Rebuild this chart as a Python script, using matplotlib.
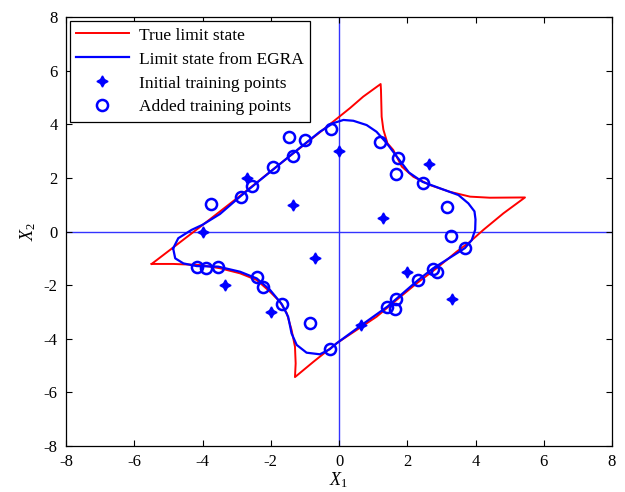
import matplotlib
matplotlib.use("Agg")
import matplotlib.pyplot as plt

# True limit state (traced, closed)
true_x = [-5.49, -4.76, -4.02, -2.90, -1.73, -0.56, 0.32, 0.71, 1.22, 1.23, 1.25, 1.30,
          1.42, 1.59, 1.84, 2.18, 2.67, 3.25, 3.84, 4.42, 5.45, 4.82, 4.23, 3.84, 3.45,
          2.86, 2.28, 1.69, 1.10, 0.52, -0.07, -0.75, -1.29, -1.27, -1.29, -1.39, -1.53,
          -1.73, -2.02, -2.41, -2.90, -3.49, -4.07, -4.86, -5.49]
true_y = [-1.21, -0.50, 0.22, 1.33, 2.52, 3.70, 4.60, 5.03, 5.50, 5.28, 4.28, 3.80,
          3.29, 3.04, 2.42, 2.04, 1.73, 1.48, 1.30, 1.26, 1.27, 0.68, 0.06, -0.38, -0.75,
          -1.37, -1.93, -2.55, -3.18, -3.67, -4.17, -4.86, -5.43, -4.92, -4.30, -3.67, -3.05,
          -2.62, -2.25, -1.81, -1.56, -1.37, -1.25, -1.21, -1.21]

# Limit state from EGRA (traced, closed)
egra_x = [-4.86, -4.71, -4.32, -4.00, -3.49, -2.90, -2.31, -1.73, -1.14, -0.56, -0.17,
          0.13, 0.42, 0.81, 1.10, 1.40, 1.72, 2.05, 2.45, 2.96, 3.50, 3.79, 3.97, 4.00,
          3.99, 3.89, 3.69, 2.74, 2.31, 1.42, 0.66, -0.07, -0.27, -0.56, -0.95, -1.24,
          -1.39, -1.49, -1.67, -2.02, -2.41, -2.90, -3.54, -4.17, -4.56, -4.80, -4.86]
egra_y = [-0.63, -0.25, 0.06, 0.25, 0.65, 1.30, 1.92, 2.52, 3.13, 3.72, 4.04,
          4.16, 4.13, 3.97, 3.72, 3.29, 2.75, 2.20, 1.85, 1.61, 1.36, 1.05, 0.75, 0.45,
          0.06, -0.32, -0.62, -1.39, -1.82, -2.80, -3.49, -4.17, -4.39, -4.58, -4.52, -4.23,
          -3.80, -3.18, -2.72, -2.18, -1.75, -1.50, -1.31, -1.29, -1.19, -1.00, -0.63]

init_x = [-2.7, -1.35, 0.0, 2.65, 1.3, 2.0, 3.3, 0.65, -4.0, -0.7, -3.35, -2.0]
init_y = [2.0, 1.0, 3.0, 2.5, 0.5, -1.5, -2.5, -3.5, 0.0, -1.0, -2.0, -3.0]

added_x = [-3.76, -2.88, -2.54, -1.92, -1.34, -1.47, -0.99, -0.23, 1.20, 1.72, 1.67, 2.45,
           3.17, 3.27, 3.69, 2.74, 2.87, 2.31, 1.67, 1.42, 1.64, -0.25, -4.17, -3.90,
           -3.54, -2.41, -2.24, -1.67, -0.86]
added_y = [1.03, 1.28, 1.71, 2.39, 2.82, 3.51, 3.40, 3.82, 3.33, 2.75, 2.16, 1.82,
           0.90, -0.17, -0.62, -1.39, -1.52, -1.82, -2.51, -2.80, -2.88, -4.38, -1.31, -1.36,
           -1.31, -1.71, -2.08, -2.72, -3.43]

ticks = [-8, -6, -4, -2, 0, 2, 4, 6, 8]

plt.rcParams['font.family'] = ['Liberation Serif', 'DejaVu Serif']
plt.rcParams['mathtext.fontset'] = 'custom'
plt.rcParams['mathtext.it'] = 'Liberation Serif:italic'
plt.rcParams['mathtext.rm'] = 'Liberation Serif'
plt.rcParams['axes.unicode_minus'] = False

fig = plt.figure(figsize=(6.25, 4.92), dpi=100)
ax = fig.add_axes([66/625, 46/492, 546/625, 429/492])

ax.axvline(0, color='#3333ff', lw=1.0, zorder=1)
ax.axhline(0, color='#3333ff', lw=1.0, zorder=1)

ax.plot(true_x, true_y, color='#ff0000', lw=1.4, label='True limit state', zorder=2)
ax.plot(egra_x, egra_y, color='#0000ff', lw=1.6, label='Limit state from EGRA', zorder=3)
ax.plot(init_x, init_y, linestyle='none', marker=(4, 1, 0), color='#0000ff', markersize=8,
        markeredgewidth=1.0, label='Initial training points', zorder=4)
ax.plot(added_x, added_y, linestyle='none', marker='o', markerfacecolor='none',
        markeredgecolor='#0000ff', markersize=8, markeredgewidth=1.8,
        label='Added training points', zorder=4)

ax.set_xlim(-8, 8)
ax.set_ylim(-8, 8)
ax.set_xticks(ticks)
ax.set_yticks(ticks)
ax.tick_params(direction='in', top=True, right=True, labelsize=12, length=4, width=0.8)
ax.tick_params(axis='x', pad=6)
ax.tick_params(axis='y', pad=6)
for s in ax.spines.values():
    s.set_linewidth(0.9)

ax.set_xlabel(r'$\mathit{X_1}$', fontsize=13, labelpad=0)
ax.set_ylabel(r'$\mathit{X_2}$', fontsize=13, labelpad=4)

leg = ax.legend(loc='upper left', fontsize=12.5, frameon=True, fancybox=False,
                edgecolor='black', framealpha=1, handlelength=3.0, borderaxespad=0.25,
                borderpad=0.35, labelspacing=0.45, handletextpad=0.6)
leg.get_frame().set_linewidth(0.9)

fig.savefig('out.png', dpi=100)
